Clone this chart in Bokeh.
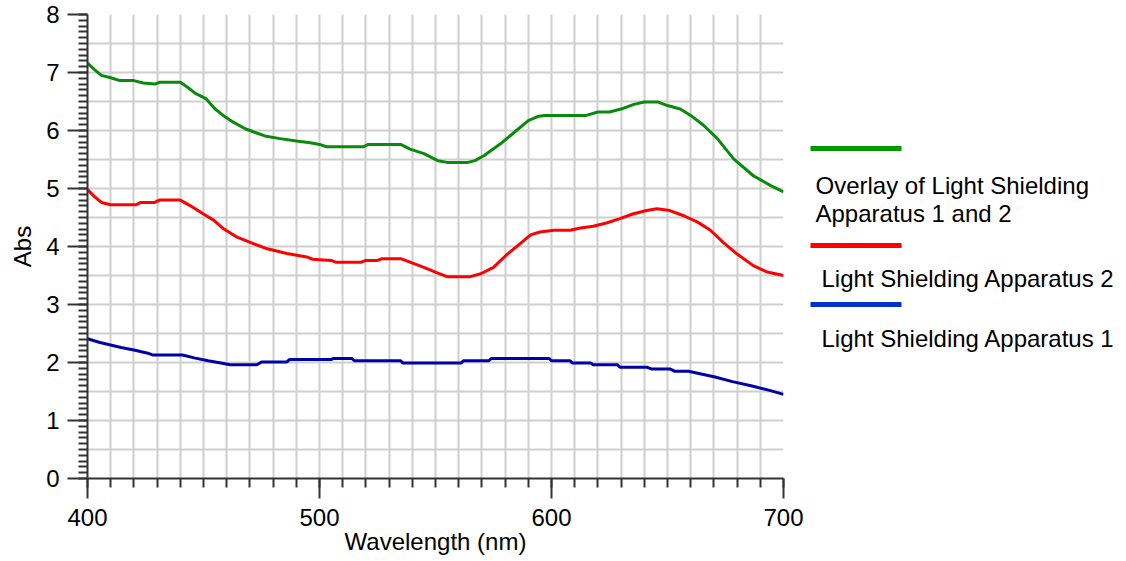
from bokeh.plotting import figure
from bokeh.models import Range1d, FixedTicker, LinearAxis
from bokeh.layouts import row
from bokeh.core.properties import value
from bokeh.embed import file_html
from bokeh.resources import INLINE

# ---------------- data ----------------
wl_overlay = [400, 403, 406, 410, 414, 420, 424, 429, 431, 440, 443, 446.5, 451, 455, 458.5,
              463, 468, 472, 477, 483, 490, 496, 500, 503, 519, 521, 535, 539, 545, 551,
              555, 564, 567, 571, 578, 584, 590, 594, 597, 615, 620, 625, 630, 635.5, 640,
              646, 650, 655.5, 660, 665.5, 671.5, 678.5, 687, 694.5, 700]
abs_overlay = [7.16, 7.05, 6.95, 6.91, 6.86, 6.86, 6.82, 6.80, 6.83, 6.83, 6.75, 6.64, 6.55, 6.37, 6.26,
               6.14, 6.03, 5.97, 5.90, 5.86, 5.82, 5.79, 5.76, 5.72, 5.72, 5.76, 5.76, 5.68, 5.60, 5.48,
               5.45, 5.45, 5.48, 5.57, 5.77, 5.97, 6.17, 6.24, 6.26, 6.26, 6.32, 6.32, 6.37, 6.45, 6.49,
               6.49, 6.43, 6.37, 6.26, 6.09, 5.86, 5.51, 5.22, 5.05, 4.94]

wl_app2 = [400, 403, 406, 410, 421, 423, 429, 431, 440, 444, 450, 454.5, 458.5, 464.5, 471.5,
           477.5, 486, 494.5, 497, 505, 507, 518, 520, 525, 527, 535, 539, 545, 551, 555,
           565, 569.5, 575, 581, 586.5, 591, 595, 601, 608, 612.5, 618, 624, 629.5, 635, 641,
           645.5, 651, 657, 663, 668.5, 674, 680, 687, 693, 700]
abs_app2 = [4.98, 4.86, 4.76, 4.72, 4.72, 4.76, 4.76, 4.80, 4.80, 4.71, 4.56, 4.45, 4.31, 4.16, 4.05,
            3.96, 3.88, 3.82, 3.78, 3.76, 3.73, 3.73, 3.76, 3.76, 3.79, 3.79, 3.73, 3.64, 3.54, 3.48,
            3.48, 3.53, 3.64, 3.87, 4.05, 4.20, 4.25, 4.28, 4.28, 4.32, 4.35, 4.41, 4.48, 4.56, 4.62,
            4.65, 4.62, 4.53, 4.42, 4.28, 4.07, 3.87, 3.67, 3.56, 3.50]

wl_app1 = [400, 405, 409, 414.5, 420.5, 426, 428, 441, 446, 452, 457.5, 461.5, 473, 475, 486,
           487, 505, 506, 514, 515, 535, 536, 561, 562, 573, 574, 599, 600, 608, 609,
           617, 618, 628.5, 629.5, 641, 643, 651, 653, 659, 662.5, 670.5, 678, 686, 694, 700]
abs_app1 = [2.41, 2.35, 2.31, 2.26, 2.21, 2.16, 2.13, 2.13, 2.08, 2.03, 1.99, 1.96, 1.96, 2.01, 2.01,
            2.05, 2.05, 2.07, 2.07, 2.03, 2.03, 1.99, 1.99, 2.03, 2.03, 2.07, 2.07, 2.03, 2.03, 1.99,
            1.99, 1.96, 1.96, 1.92, 1.92, 1.89, 1.89, 1.85, 1.85, 1.82, 1.75, 1.67, 1.60, 1.52, 1.45]

x_major_ticks = [400, 500, 600, 700]
x_mid_ticks = [450, 550, 650]
y_major_ticks = [0, 1, 2, 3, 4, 5, 6, 7, 8]

legend_labels = [["Overlay of Light Shielding", "Apparatus 1 and 2"],
                 ["Light Shielding Apparatus 2"],
                 ["Light Shielding Apparatus 1"]]

# ---------------- styles ----------------
FONT = "Liberation Sans"
FS = "24px"
AX = "#333333"
GRID = "#cfcfcf"
C_OVER, C_APP2, C_APP1 = "#0a8a0a", "#ff0000", "#0000a8"
L_OVER, L_APP2, L_APP1 = "#009900", "#ff0000", "#0033cc"

H = 561
BT, BB = 14, 83          # frame top / bottom borders

p = figure(width=808, height=H, output_backend="svg", toolbar_location=None,
           x_range=Range1d(400, 700), y_range=Range1d(0, 8),
           min_border_left=87, min_border_right=25, min_border_top=BT, min_border_bottom=BB)
p.outline_line_color = None
p.background_fill_color = "white"
p.border_fill_color = "white"

x_minor = [400 + 10 * i for i in range(31)]
y_minor = [round(0.1 * i, 1) for i in range(81)]
y_mid = [0.5 + i for i in range(8)]
y_grid = [0.5 * i for i in range(17)]

xa = p.xaxis[0]
xa.ticker = FixedTicker(ticks=x_major_ticks, minor_ticks=x_minor)
ya = p.yaxis[0]
ya.ticker = FixedTicker(ticks=y_major_ticks, minor_ticks=y_minor)
for a in (xa, ya):
    a.axis_line_color = AX
    a.axis_line_width = 2
    a.major_tick_line_color = AX
    a.major_tick_line_width = 2
    a.minor_tick_line_color = AX
    a.minor_tick_line_width = 2
    a.major_tick_in = 0
    a.major_tick_out = 20
    a.minor_tick_in = 0
    a.minor_tick_out = 9
    a.major_label_text_font = FONT
    a.major_label_text_font_size = FS
    a.major_label_text_color = "black"
    a.axis_label_text_font = FONT
    a.axis_label_text_font_size = FS
    a.axis_label_text_font_style = "normal"
    a.axis_label_text_color = "black"
xa.axis_label = "Wavelength (nm)"
xa.major_label_standoff = 10
xa.axis_label_standoff = -1
ya.axis_label = "Abs"
ya.major_label_standoff = 8
ya.axis_label_standoff = 7

# medium-length ticks at the halves
xm = LinearAxis(fixed_location=0, ticker=FixedTicker(ticks=x_mid_ticks, minor_ticks=[]),
                axis_line_color=None, major_tick_in=0, major_tick_out=15,
                major_tick_line_color=AX, major_tick_line_width=2,
                minor_tick_line_color=None, major_label_text_color=None)
p.add_layout(xm, "below")
ym = LinearAxis(fixed_location=400, ticker=FixedTicker(ticks=y_mid, minor_ticks=[]),
                axis_line_color=None, major_tick_in=0, major_tick_out=14,
                major_tick_line_color=AX, major_tick_line_width=2,
                minor_tick_line_color=None, major_label_text_color=None)
p.add_layout(ym, "left")

p.xgrid.ticker = FixedTicker(ticks=x_minor)
p.ygrid.ticker = FixedTicker(ticks=y_grid)
for g in (p.xgrid[0], p.ygrid[0]):
    g.grid_line_color = GRID
    g.grid_line_width = 2

p.line(wl_overlay, abs_overlay, line_color=C_OVER, line_width=3)
p.line(wl_app2, abs_app2, line_color=C_APP2, line_width=3)
p.line(wl_app1, abs_app1, line_color=C_APP1, line_width=3)

# ---------------- legend panel (same vertical frame as the plot) ----------------
lg = figure(width=1126 - 808, height=H, output_backend="svg", toolbar_location=None,
            x_range=Range1d(0, 1126 - 808), y_range=Range1d(0, 8),
            x_axis_type=None, y_axis_type=None,
            min_border_left=0, min_border_right=0, min_border_top=BT, min_border_bottom=BB)
lg.outline_line_color = None
lg.grid.visible = False
lg.background_fill_color = "white"
lg.border_fill_color = "white"

PY = 8 / 464.0   # Abs units per pixel
sw_y = [8 - 134 * PY, 8 - 231 * PY, 8 - 290 * PY]
txt_x = [7, 13, 13]
txt_y = [8 - 171 * PY, 8 - 263.7 * PY, 8 - 324.3 * PY]
for labels, col, sy, tx, ty in zip(legend_labels, [L_OVER, L_APP2, L_APP1], sw_y, txt_x, txt_y):
    lg.line([2, 93], [sy, sy], line_color=col, line_width=5, line_cap="butt")
    lg.text(x=[tx] * len(labels), y=[ty - 27.7 * PY * i for i in range(len(labels))], text=labels,
            text_font=value(FONT), text_font_size=value(FS), text_color="black",
            text_align="left", text_baseline="alphabetic")

layout = row(p, lg)
open("out.html", "w").write(file_html(layout, INLINE))
